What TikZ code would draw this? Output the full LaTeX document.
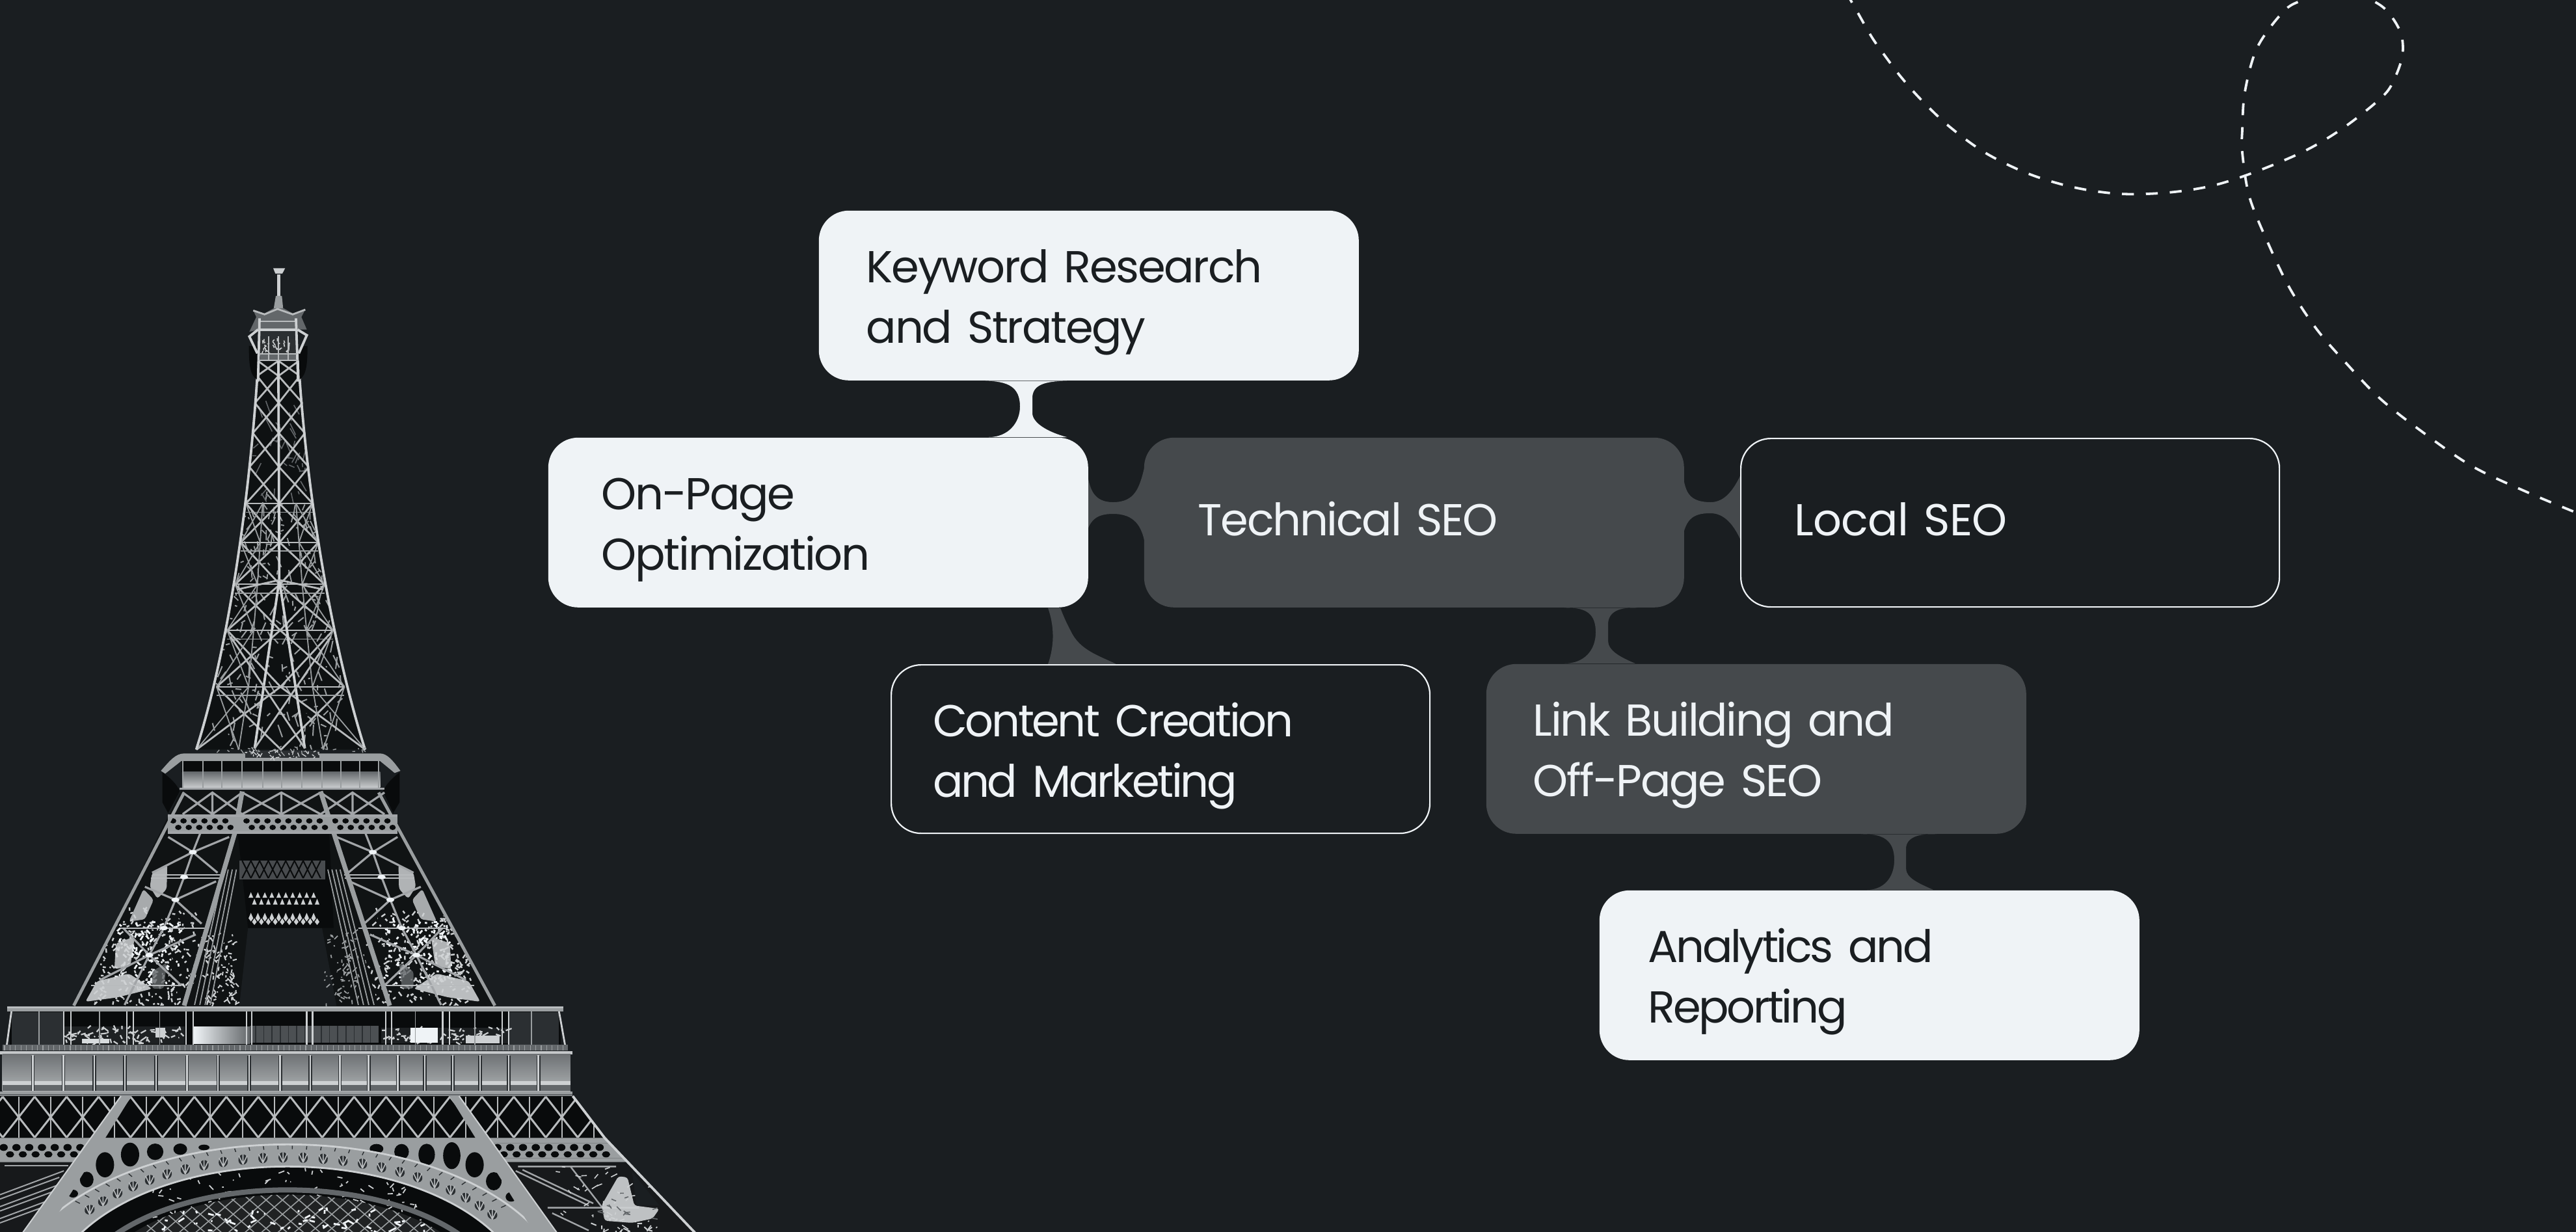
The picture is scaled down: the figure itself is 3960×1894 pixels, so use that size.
\documentclass[tikz,border=0pt]{standalone}
\usepackage{fontspec}
\setmainfont{Poppins}[LetterSpace=-3.4,WordSpace=0.8]
\usetikzlibrary{calc}
\pgfdeclarelayer{bgl}\pgfdeclarelayer{conn}\pgfsetlayers{bgl,conn,main}
\definecolor{bgc}{HTML}{1A1E21}
\definecolor{lightc}{HTML}{EFF3F6}
\definecolor{midc}{HTML}{45494C}
\definecolor{steelA}{HTML}{9A9EA0}
\definecolor{steelB}{HTML}{CDD0D2}
\definecolor{steelC}{HTML}{63676A}
\definecolor{steelD}{HTML}{2B2F32}
\definecolor{ink}{HTML}{090B0C}
\newcommand{\tA}[1]{\rule{0pt}{20pt}#1}
\newcommand{\tB}[1]{#1\rule[-6.5pt]{0pt}{6.5pt}}
\newcommand{\tS}[1]{\rule{0pt}{16pt}#1\rule[-6pt]{0pt}{6pt}}
\newcommand{\speck}[6]{\foreach \ii in {1,...,#5}{%
  \pgfmathsetmacro\pxa{#1+rnd*(#2-#1)}\pgfmathsetmacro\pya{#3+rnd*(#4-#3)}%
  \pgfmathsetmacro\pxb{\pxa+(rnd-.5)*28}\pgfmathsetmacro\pyb{\pya+(rnd-.5)*40}%
  \draw[#6] (\pxa,\pya) -- (\pxb,\pyb);}}
\tikzset{
 boxbase/.style={anchor=north west,rounded corners=11.5pt,minimum width=207.5pt,minimum height=65.25pt,
   align=left,font=\fontsize{17.2pt}{23.25pt}\selectfont,inner ysep=0pt},
 lightbox/.style={boxbase,fill=lightc,text=bgc},
 midbox/.style={boxbase,fill=midc,text=lightc},
 linebox/.style={boxbase,fill=bgc,draw=lightc,line width=0.55pt,text=lightc,minimum width=207pt,minimum height=64.75pt},
 dashline/.style={draw=lightc,line width=0.95pt,dash pattern=on 4.6pt off 4.6pt},
 hair/.style={draw=steelA,line width=0.3pt},
 member/.style={draw=steelB!90!black,line width=0.7pt},
 rail/.style={draw=steelB,line width=0.95pt},
 leg/.style={draw=steelA,line width=1.7pt},
 girder/.style={draw=steelA!85!steelB,line width=0.8pt},
}
\begin{document}
\begin{tikzpicture}[x=0.25pt,y=-0.25pt]
\pgfmathsetseed{11}
\begin{pgfonlayer}{bgl}
\fill[bgc] (0,0) rectangle (3960,1894);
\end{pgfonlayer}
\useasboundingbox (0,0) rectangle (3960,1894);
\clip (0,0) rectangle (3960,1894);

% dashed curve
\draw[dashline] plot[smooth,tension=0.55] coordinates {(2838,-12) (2855,18) (2878,58) (2900,89) (2922,118) (2952,152) (2996,194) (3052,235) (3118,267) (3188,288) (3259,298) (3333,296) (3403,285) (3473,262) (3547,230) (3606,194) (3662,149) (3680,123) (3693,86) (3691,52) (3673,21) (3651,3) (3600,-20) (3540,0) (3510,18) (3470,73) (3451,141) (3447,199) (3447,235) (3458,303) (3488,377) (3521,445) (3562,507) (3610,562) (3658,612) (3717,659) (3799,716) (3888,758) (3970,792)};

% nodes
\node[lightbox,text width=171pt,inner xsep=18.25pt] (kw) at (1258,323) {\tA{Keyword Research}\\\tB{and Strategy}};
\node[lightbox,text width=166.5pt,inner xsep=20.5pt] (op) at (842,672) {\tA{On-Page}\\\tB{Optimization}};
\node[midbox,text width=166pt,inner xsep=20.75pt] (ts) at (1758,672) {\tS{Technical SEO}};
\node[linebox,text width=166pt,inner xsep=20.5pt] (ls) at (2675,673) {\tS{\addfontfeature{LetterSpace=-1}Local SEO}};
\node[linebox,text width=175pt,inner xsep=16pt] (cc) at (1369,1021) {\tA{\addfontfeature{LetterSpace=-5}Content Creation}\\\tB{\addfontfeature{LetterSpace=-5}and Marketing}};
\node[midbox,text width=171.5pt,inner xsep=18pt] (lb) at (2284,1020) {\tA{Link Building and}\\\tB{Off-Page SEO}};
\node[lightbox,text width=170pt,inner xsep=18.75pt] (an) at (2458,1368) {\tA{\addfontfeature{LetterSpace=-5}Analytics and}\\\tB{\addfontfeature{LetterSpace=-5}Reporting}};

% connectors
\begin{pgfonlayer}{conn}
\fill[lightc] (1515,0 |- kw.south) .. controls (1550,586) and (1568,595) .. (1568,625)
  .. controls (1568,650) and (1550,672) .. (1520,0 |- op.north) -- (1640,0 |- op.north)
  .. controls (1610,664) and (1587,650) .. (1587,635) -- (1587,612)
  .. controls (1587,592) and (1605,586) .. (1640,0 |- kw.south) -- cycle;
\fill[midc] (1665,0 |- op.north) ++(7,60) .. controls (1676,750) and (1680,772) .. (1711,772)
  .. controls (1745,772) and (1752,750) .. (1760,715) -- (1760,835)
  .. controls (1755,810) and (1745,790) .. (1711,790) .. controls (1685,790) and (1676,800) .. (1670,820) -- cycle;
\fill[midc] (1611,0 |- op.south) .. controls (1620,960) and (1622,990) .. (1611,0 |- cc.north) -- (1716,0 |- cc.north)
  .. controls (1690,1008) and (1660,1000) .. (1646,970) .. controls (1638,955) and (1634,945) .. (1630,0 |- op.south) -- cycle;
\fill[midc] (2585,715) .. controls (2590,750) and (2590,772) .. (2630,772)
  .. controls (2650,772) and (2665,755) .. (2678,725) -- (2678,835)
  .. controls (2665,805) and (2650,789) .. (2629,789) .. controls (2600,789) and (2590,800) .. (2585,835) -- cycle;
\fill[midc] (2405,0 |- ts.south) .. controls (2440,933) and (2453,945) .. (2453,972)
  .. controls (2453,1000) and (2435,1020) .. (2405,0 |- lb.north) -- (2514,0 |- lb.north)
  .. controls (2490,1010) and (2472,1000) .. (2472,985) -- (2472,960)
  .. controls (2472,940) and (2490,933) .. (2517,0 |- ts.south) -- cycle;
\fill[midc] (2861,0 |- lb.south) .. controls (2895,1281) and (2912,1292) .. (2912,1322)
  .. controls (2912,1350) and (2895,1368) .. (2870,0 |- an.north) -- (2972,0 |- an.north)
  .. controls (2950,1358) and (2930,1350) .. (2930,1335) -- (2930,1305)
  .. controls (2930,1287) and (2950,1281) .. (2977,0 |- lb.south) -- cycle;
\end{pgfonlayer}

% ===== Upper shaft =====
\begin{scope}[shift={(0,380)},x=0.17538pt,y=-0.24138pt]
\path[fill=ink!70!bgc] (566,181) .. controls (548,400) and (500,640) .. (430,800) -- (800,800) .. controls (730,640) and (672,400) .. (654,181) -- cycle;
\begin{scope}
\clip (566,181) .. controls (548,400) and (500,640) .. (430,800) -- (800,800) .. controls (730,640) and (672,400) .. (654,181) -- cycle;
\speck{470}{760}{560}{800}{170}{steelA,line width=.5pt}
\speck{510}{720}{400}{560}{110}{steelA,line width=.45pt}
\speck{550}{670}{250}{400}{40}{steelC,line width=.4pt}
\end{scope}
\foreach \ya/\ha/\yb/\hb in {181/45/205/47,205/47/248/52,248/52/296/57,296/57/350/65,350/65/408/73,408/73/470/85,470/85/537/98,537/98/610/116,610/116/700/140,700/140/800/185}{
  \pgfmathsetmacro{\ca}{610+(\ya-180)*0.009}
  \pgfmathsetmacro{\cb}{610+(\yb-180)*0.009}
  \draw[member] (\ca-\ha,\ya) -- (\cb,\yb) -- (\ca+\ha,\ya)
    (\ca,\ya) -- (\cb-\hb,\yb) (\ca,\ya) -- (\cb+\hb,\yb);
}
\foreach \ya/\ha/\yb/\hb in {408/73/470/85,470/85/537/98,537/98/610/116,610/116/700/140,700/140/800/185}{
  \pgfmathsetmacro{\ca}{610+(\ya-180)*0.009}
  \pgfmathsetmacro{\cb}{610+(\yb-180)*0.009}
  \draw[member,line width=.5pt] (\ca-\ha,\ya) -- (\ca+\ha,\ya);
  \draw[hair,line width=.45pt] (\ca-\ha,\ya+14) -- (\ca+\ha,\ya+14);
  \draw[hair,line width=.45pt] (\ca-.5*\ha,\ya) -- (\cb-.5*\hb,\yb) (\ca+.5*\ha,\ya) -- (\cb+.5*\hb,\yb);
  \draw[hair,line width=.45pt] (\ca-\ha,\ya) -- (\cb-.5*\hb,\yb) (\ca+\ha,\ya) -- (\cb+.5*\hb,\yb) (\ca-.5*\ha,\ya) -- (\cb-\hb,\yb) (\ca+.5*\ha,\ya) -- (\cb+\hb,\yb);
}
\draw[rail] (610,181) -- (612,530) -- (558,798) (612,530) -- (668,798);
\draw[member] (520,545) -- (612,530) -- (708,545) (505,620) -- (668,798) (725,620) -- (558,798);
\draw[rail] (566,181) .. controls (548,400) and (500,640) .. (430,800);
\draw[rail] (654,181) .. controls (672,400) and (730,640) .. (800,800);
\end{scope}

% ===== Top of the tower =====
\begin{scope}[shift={(250,400)},x=0.08333pt,y=-0.08333pt]
\fill[ink] (398,395) .. controls (398,470) and (400,530) .. (435,550) -- (440,400) -- cycle;
\fill[ink] (668,395) .. controls (668,470) and (665,530) .. (632,550) -- (628,400) -- cycle;
\draw[rail,line width=1.1pt] (535,65) -- (535,165);
\fill[steelB] (510,37) -- (565,37) -- (552,62) -- (520,62) -- cycle;
\fill[steelA] (522,165) -- (550,165) -- (556,225) -- (512,225) -- cycle;
\fill[steelC] (418,232) -- (470,245) -- (512,222) -- (558,222) -- (600,245) -- (658,228) -- (640,262) -- (665,320) -- (620,320) -- (445,320) -- (400,330) -- (432,262) -- cycle;
\draw[member] (418,232) -- (470,250) -- (530,225) -- (600,250) -- (658,228);
\draw[member,line width=.5pt] (445,282) -- (612,282);
\fill[steelD] (450,325) rectangle (615,362);
\fill[ink!60!steelC] (450,362) rectangle (615,432);
\speck{455}{612}{365}{430}{28}{steelB,line width=.4pt}
\fill[steelC] (450,432) rectangle (615,462);
\foreach \xa in {490,535,580} \draw[member,line width=.5pt] (\xa,350) -- (\xa,462);
\draw[rail] (447,268) -- (440,560) (615,268) -- (625,560);
\draw[rail] (440,320) -- (622,320);
\draw[rail] (440,320) -- (400,352) -- (437,430) (622,320) -- (665,346) -- (628,430);
\draw[member] (440,462) -- (625,462) (445,432) -- (620,432);
\end{scope}

% ===== Second stage =====
\begin{scope}[shift={(100,1150)},x=0.11161pt,y=-0.08333pt]
\fill[ink] (335,112) .. controls (360,135) and (385,165) .. (395,200) -- (355,300) -- (335,250) -- cycle;
\fill[ink] (1152,112) .. controls (1130,135) and (1105,165) .. (1095,200) -- (1130,300) -- (1152,250) -- cycle;
\fill[ink!60!bgc] (400,195) -- (1085,195) -- (1480,1190) -- (30,1190) -- cycle;
\fill[bgc] (630,830) -- (885,830) -- (935,1190) -- (600,1190) -- cycle;
% platform
\fill[steelA] (330,105) .. controls (360,60) and (380,25) .. (410,25) -- (1085,25) .. controls (1110,25) and (1130,60) .. (1155,105) -- (1135,115) -- (1085,60) -- (400,60) -- (345,118) -- cycle;
\fill[ink] (400,60) rectangle (1085,110);
\shade[top color=steelC,bottom color=steelB!85!steelA] (405,108) rectangle (1085,180);
\foreach \xa in {405,475,540,610,680,745,815,885,950,1015,1080}
  \draw[hair,draw=steelA,line width=.5pt] (\xa,60) -- (\xa,182);
\draw[girder] (395,187) -- (1100,187);
\fill[steelD] (620,12) rectangle (875,45);
\speck{622}{872}{14}{44}{35}{steelB,line width=.35pt}
\speck{440}{1080}{0}{18}{30}{steelA,line width=.35pt}
% frieze X
\foreach \pa/\pb in {405/610,610/880,880/1100}{
  \pgfmathsetmacro{\pc}{(\pa+\pb)/2}
  \draw[girder] (\pa,305) -- (\pc,205) -- (\pb,305) (\pa,205) -- (\pc,305) -- (\pb,205) (\pc,205) -- (\pc,305);
}
% lace band
\fill[steelA] (355,312) rectangle (1145,390);
\foreach \xa in {372,408,...,575,625,661,...,885,930,966,...,1125}{
  \fill[ink] (\xa,336) ellipse[x radius=11,y radius=12];
  \fill[ink] (\xa+18,366) ellipse[x radius=11,y radius=12];
}
% inner arched lattice and window
\fill[ink] (595,395) -- (910,395) -- (925,830) -- (630,830) -- cycle;
\fill[steelC!70!ink] (600,518) rectangle (897,605);
\foreach \xa in {610,640,...,870}{
  \draw[hair,draw=ink,line width=.5pt] (\xa,520) -- (\xa+30,600) (\xa+30,520) -- (\xa,600);
}
\foreach \xa in {640,664,...,868}{
  \fill[steelB] (\xa,665) -- (\xa+8,690) -- (\xa-8,690) -- cycle;
  \fill[steelB] (\xa+12,695) -- (\xa+20,722) -- (\xa+4,722) -- cycle;
  \fill[steelB] (\xa,760) -- (\xa+8,785) -- (\xa,800) -- (\xa-8,785) -- cycle;
  \fill[steelB] (\xa+12,785) -- (\xa+20,802) -- (\xa+12,816) -- (\xa+4,802) -- cycle;
}
% flanks of the opening
\speck{480}{590}{850}{1185}{110}{steelB,line width=.5pt}
\speck{895}{1010}{850}{1185}{80}{steelA,line width=.45pt}
\foreach \xa in {0,1,...,3}{
  \draw[hair,line width=.45pt] ({590-\xa*14},560) -- ({500-\xa*18},1185);
  \draw[hair,line width=.45pt] ({905+\xa*14},560) -- ({1010+\xa*18},1185);
}
% both lattice pillars, drawn once and mirrored
\foreach \sca/\shf in {1/0,-1/1500}{
\begin{scope}[shift={(\shf,0)},xscale=\sca]
  \clip (400,200) -- (30,1188) -- (420,1188) -- (600,390) -- (610,200) -- cycle;
  \speck{100}{470}{750}{1185}{260}{steelB,line width=.6pt}
  \speck{170}{400}{800}{1100}{120}{lightc,line width=.7pt}
  \fill[steelB,opacity=.85,rounded corners=1pt] (300,575) -- (352,538) -- (350,650) -- (318,695) -- (292,640) -- cycle;
  \fill[steelB,opacity=.8,rounded corners=1pt] (270,650) -- (305,700) -- (275,790) -- (220,800) -- cycle;
  \fill[steelB,opacity=.85,rounded corners=1pt] (175,900) -- (240,870) -- (225,1005) -- (170,1020) -- cycle;
  \fill[steelB,opacity=.9,rounded corners=1pt] (110,1075) -- (220,1040) -- (300,1110) -- (180,1150) -- (70,1170) -- cycle;
  \fill[steelC,opacity=.8,rounded corners=1pt] (300,1030) -- (350,990) -- (340,1110) -- (300,1110) -- cycle;
  \draw[girder] (465,395) -- (440,480) -- (410,595) -- (380,700) -- (340,830) -- (290,955) -- (205,1185);
  \draw[girder] (355,410) -- (440,480) -- (525,575) (565,410) -- (440,480) -- (300,575);
  \draw[girder] (520,615) -- (380,700) -- (470,810) (275,640) -- (380,700);
  \draw[girder] (200,830) -- (290,955) -- (400,1095) (450,860) -- (290,955) -- (120,1070);
  \draw[member,line width=.5pt] (300,585) -- (540,585) (296,600) -- (536,600) (190,830) -- (490,830) (90,1095) -- (400,1095);
  \foreach \nx/\ny in {440/480,410/595,380/700,340/830,290/955}
    \fill[lightc] (\nx,\ny) ellipse[x radius=14,y radius=10];
\end{scope}}
% main legs
\draw[leg,line width=1.8pt] (610,200) -- (585,390) -- (410,1188);
\draw[leg,line width=1.8pt] (880,200) -- (925,390) -- (1118,1188);
\draw[leg,line width=1.2pt] (410,205) -- (30,1188);
\draw[leg,line width=1.2pt] (1080,205) -- (1480,1188);
\draw[girder] (355,312) -- (1145,312) (355,390) -- (1145,390);
\end{scope}

% ===== First platform and base =====
\begin{scope}[shift={(0,1500)},x=0.17538pt,y=-0.08333pt]
\fill[ink] (22,165) rectangle (1228,318);
\fill[steelD] (25,168) -- (140,168) -- (140,318) -- (25,318) -- cycle;
\fill[steelD] (1115,168) -- (1225,168) -- (1225,318) -- (1115,318) -- cycle;
\fill[steelD!70!black] (140,235) rectangle (405,315);
\speck{145}{400}{240}{312}{70}{steelB,line width=.55pt}
\fill[lightc!90!black] (180,290) rectangle (240,312);
\fill[steelB] (340,240) rectangle (362,285);
\shade[left color=lightc,right color=steelC] (425,235) rectangle (548,312);
\fill[steelC!75!ink] (548,232) rectangle (830,310);
\foreach \xa in {560,578,...,820} \draw[hair,draw=steelD,line width=.4pt] (\xa,232) -- (\xa,310);
\fill[steelD!70!black] (835,240) rectangle (1115,312);
\speck{840}{1110}{243}{310}{70}{steelB,line width=.55pt}
\fill[lightc] (900,240) rectangle (960,310);
\fill[steelB] (1020,275) rectangle (1095,312);
\foreach \xa in {140,155,278,292,408,423,540,552,672,685,845,858,970,985,1100,1115}
  \draw[hair,draw=steelB,line width=.55pt] (\xa,165) -- (\xa,318);
\foreach \xa in {85,218,350,910,1040,1165}
  \draw[hair,line width=.45pt] (\xa,165) -- (\xa,318);
\draw[rail,line width=.7pt] (25,165) -- (15,318) (1225,165) -- (1238,318);
\fill[steelA] (15,140) rectangle (1235,165);
\fill[steelB,opacity=.7] (15,143) rectangle (1235,150);
\fill[steelC] (5,318) rectangle (1245,346);
\foreach \xa in {10,22,...,1240} \draw[hair,line width=.3pt] (\xa,320) -- (\xa,345);
\fill[steelB!85!steelA] (0,348) rectangle (1255,362);
% columns band
\shade[top color=steelC!80!steelA,middle color=steelA,bottom color=steelA!80!white] (5,362) rectangle (1250,532);
\fill[steelB] (5,485) rectangle (1250,505);
\fill[steelC] (5,505) rectangle (1250,532);
\foreach \xa in {72,139,207,274,342,410,478,546,614,680,745,808,872,931,992,1052,1115,1180}{
  \fill[steelD] (\xa-4,368) rectangle (\xa+4,530);
  \fill[steelB] (\xa-2,366) rectangle (\xa+1.5,530);
}
\fill[steelA] (0,534) rectangle (1255,555);
\draw[draw=steelC,line width=.5pt] (0,548) -- (1255,548);
% lattice band
\fill[ink] (0,555) -- (1255,555) -- (1325,748) -- (0,748) -- cycle;
\begin{scope}
\clip (0,555) -- (1255,555) -- (1325,748) -- (0,748) -- cycle;
\foreach \xa in {-64,6,...,1330}{
  \draw[girder,line width=.75pt,draw=steelB!90!black] (\xa,558) -- (\xa+70,746) (\xa+70,558) -- (\xa,746);
  \draw[member,line width=.5pt] (\xa+35,558) -- (\xa+35,746);
}
\end{scope}
% lower band and spandrels
\fill[steelD] (0,748) -- (1325,748) -- (1525,1190) -- (0,1190) -- cycle;
\fill[steelA] (0,748) -- (1325,748) -- (1335,772) -- (0,772) -- cycle;
\fill[steelA] (0,842) rectangle (170,860);
\fill[steelA] (1095,842) -- (1368,842) -- (1376,860) -- (1100,860) -- cycle;
\fill[steelA] (0,772) rectangle (195,842);
\fill[steelA] (1080,772) -- (1335,772) -- (1366,842) -- (1080,842) -- cycle;
\foreach \xa in {8,36,...,190}{
  \fill[ink] (\xa,792) ellipse[x radius=9,y radius=16];
  \fill[ink] (\xa+14,824) ellipse[x radius=9,y radius=14];
}
\foreach \xa in {1090,1118,...,1325}{
  \fill[ink] (\xa,792) ellipse[x radius=9,y radius=16];
  \fill[ink] (\xa+14,824) ellipse[x radius=9,y radius=14];
}
% main spandrel
\fill[steelA] (195,748) -- (1065,748) -- (1190,1190) -- (60,1190) -- cycle;
\fill[ink!60!steelD] (0,860) -- (170,860) -- (70,1190) -- (0,1190) -- cycle;
\foreach \ya in {0,1,2}{
  \draw[girder,line width=.5pt] (0,{1010+\ya*55}) -- (140,{900+\ya*55});
  \draw[girder,line width=.5pt] (0,{1030+\ya*55}) -- (130,{930+\ya*55});
}
\draw[girder,line width=.5pt] (10,875) -- (150,875);
% right pillar foot
\fill[ink!60!steelD] (1110,860) -- (1376,860) -- (1525,1190) -- (1200,1190) -- cycle;
\fill[bgc] (1385,905) -- (1445,1060) -- (1395,1060) -- cycle;
\draw[girder,line width=.6pt] (1130,900) -- (1290,1060) (1145,895) -- (1300,1050) (1250,880) -- (1320,1070) (1135,880) -- (1350,880) (1200,1070) -- (1400,1070) (1210,1095) -- (1290,1175);
\begin{scope}
\clip (1110,860) -- (1376,860) -- (1525,1190) -- (1200,1190) -- cycle;
\speck{1210}{1460}{880}{1185}{40}{steelB,line width=.4pt}
\fill[steelB,opacity=.92,rounded corners=1pt] (1355,925) -- (1375,930) -- (1390,1060) -- (1445,1075) -- (1430,1120) -- (1385,1140) -- (1325,1130) -- (1318,1060) -- cycle;
\speck{1320}{1430}{1000}{1130}{14}{steelC,line width=.4pt}
\speck{1290}{1450}{1100}{1190}{20}{steelB,line width=.5pt}
\end{scope}
% dark arches on the spandrel
\foreach \xa/\ya/\wa/\ha in {230/872/20/58,285/825/20/55,340/812/18/38,395/800/15/26,447/792/12/13,190/940/15/36,160/1005/11/18,825/798/15/22,880/812/16/36,935/825/18/50,990/830/19/62,1040/872/20/58,1082/948/17/42,1120/1020/12/22}{
  \fill[ink] (\xa,\ya) ellipse[x radius=\wa,y radius=\ha];
}
% big arch
\fill[ink] (630,1500) ellipse[x radius=524,y radius=620];
\begin{scope}
\clip (630,1500) ellipse[x radius=524,y radius=620];
\speck{330}{930}{895}{1190}{140}{steelB,line width=.45pt}
\end{scope}
\draw[draw=steelC,line width=2pt] (630,1500) ellipse[x radius=470,y radius=512];
\fill[ink!75!steelC] (630,1500) ellipse[x radius=440,y radius=490];
\begin{scope}
\clip (630,1500) ellipse[x radius=440,y radius=490];
\foreach \xa in {240,276,...,1020}{
  \draw[hair,line width=.4pt] (\xa,1000) -- (\xa+110,1200) (\xa+110,1000) -- (\xa,1200);
}
\speck{350}{930}{1080}{1185}{60}{lightc,line width=.7pt}
\end{scope}
\begin{scope}[even odd rule]
\fill[steelA] (630,1500) ellipse[x radius=612,y radius=722] (630,1500) ellipse[x radius=524,y radius=620];
\end{scope}
\foreach \aa in {38,41,...,142}{
  \draw[hair,draw=steelD,line width=.35pt] ({630+607*cos(\aa)},{1500-716*sin(\aa)}) -- ({630+594*cos(\aa)},{1500-700*sin(\aa)});
}
\foreach \aa in {37,41.5,...,143}{
  \pgfmathsetmacro{\fx}{630+562*cos(\aa)}
  \pgfmathsetmacro{\fy}{1500-662*sin(\aa)}
  \fill[steelD,rotate around={90-\aa:(\fx,\fy)}] (\fx,\fy) ellipse[x radius=10,y radius=24];
  \draw[member,line width=.4pt] (\fx,\fy+22) -- ({\fx-9},{\fy-18}) (\fx,\fy+22) -- (\fx,{\fy-24}) (\fx,\fy+22) -- ({\fx+9},{\fy-18});
}
\draw[draw=steelB,line width=.7pt] (630,1500) ellipse[x radius=612,y radius=722];
\draw[draw=steelB,line width=.7pt] (630,1500) ellipse[x radius=524,y radius=620];
% struts and outer edges
\fill[steelA] (265,555) -- (288,555) -- (100,1190) -- (48,1190) -- cycle;
\fill[steelA] (985,555) -- (1006,555) -- (1222,1190) -- (1172,1190) -- cycle;
\draw[draw=steelB,line width=.5pt] (265,555) -- (48,1190) (1006,555) -- (1222,1190);
\draw[rail] (1255,555) -- (1325,748) -- (1525,1190);
\end{scope}
\end{tikzpicture}
\end{document}
